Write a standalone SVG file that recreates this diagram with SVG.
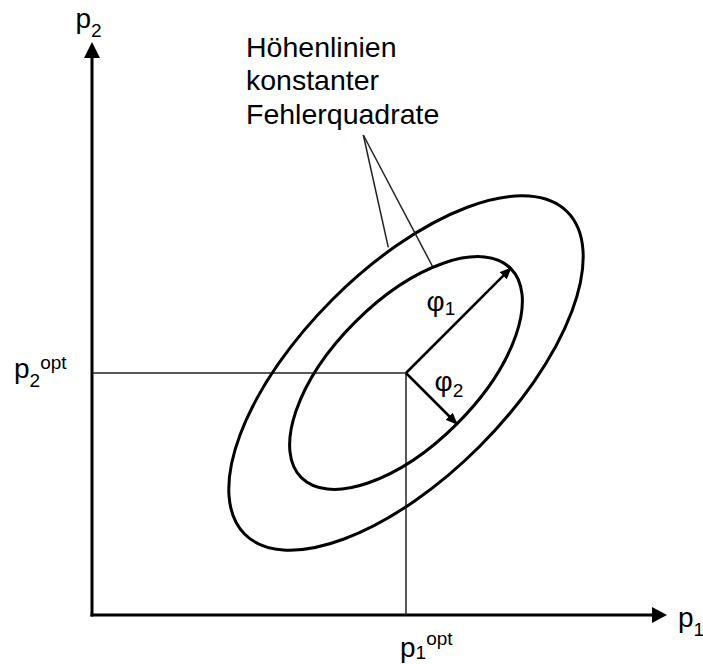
<svg xmlns="http://www.w3.org/2000/svg" width="703" height="664" viewBox="0 0 703 664">
<defs>
<style>
text{font-family:"Liberation Sans",Arial,sans-serif;fill:#000}
.m{font-size:28px}
.t{font-size:28.5px}
.s{font-size:19px}
.thick{stroke:#000;stroke-width:3;fill:none}
.thin{stroke:#222;stroke-width:1.5;fill:none}
.head{fill:#000;stroke:none}
</style>
<marker id="ah" viewBox="0 0 12 10" refX="11" refY="5" markerWidth="12" markerHeight="10" markerUnits="userSpaceOnUse" orient="auto">
<path d="M0,0 L12,5 L0,10 Z" fill="#000"/>
</marker>
</defs>
<rect width="703" height="664" fill="#fff"/>
<g id="axes">
<line class="thick" x1="92" y1="56" x2="92" y2="616.5"/>
<line class="thick" x1="90.5" y1="615" x2="653" y2="615"/>
<polygon class="head" points="92,42 84,58 100,58"/>
<polygon class="head" points="667,615 652,607 652,623"/>
</g>
<g id="guides">
<line class="thin" x1="92" y1="373" x2="406" y2="373"/>
<line class="thin" x1="406" y1="373" x2="406" y2="615"/>
</g>
<g id="outer-contour">
<ellipse class="thick" cx="406" cy="373" rx="228" ry="104" transform="rotate(-45 406 373)"/>
</g>
<g id="inner-contour">
<ellipse class="thick" cx="406" cy="373" rx="148" ry="72" transform="rotate(-45 406 373)"/>
</g>
<g id="connectors">
<line class="thin" x1="363.3" y1="135" x2="388.3" y2="247.3"/>
<line class="thin" x1="363.3" y1="135" x2="432.3" y2="266"/>
<line stroke="#000" stroke-width="2.5" x1="406" y1="373" x2="511" y2="268" marker-end="url(#ah)"/>
<line stroke="#000" stroke-width="2.5" x1="406" y1="373" x2="457" y2="424" marker-end="url(#ah)"/>
</g>
<g id="label-contours">
<text class="t" x="246" y="56.5">Höhenlinien</text>
<text class="t" x="246" y="90">konstanter</text>
<text class="t" x="246" y="123.5">Fehlerquadrate</text>
</g>
<g id="label-p2">
<text class="m" x="75.5" y="28">p<tspan class="s" dy="9">2</tspan></text>
</g>
<g id="label-p1">
<text class="m" x="678" y="627">p<tspan class="s" dy="9">1</tspan></text>
</g>
<g id="label-p2opt">
<text class="m" x="14" y="378">p<tspan class="s" dy="9">2</tspan><tspan class="s" dy="-18">opt</tspan></text>
</g>
<g id="label-p1opt">
<text class="m" x="400" y="656.5">p<tspan class="s" dy="2">1</tspan><tspan class="s" dy="-14">opt</tspan></text>
</g>
<g id="label-phi1">
<text class="m" x="426.5" y="311">φ<tspan class="s" dy="4">1</tspan></text>
</g>
<g id="label-phi2">
<text class="m" x="434.5" y="391">φ<tspan class="s" dy="6">2</tspan></text>
</g>
</svg>
